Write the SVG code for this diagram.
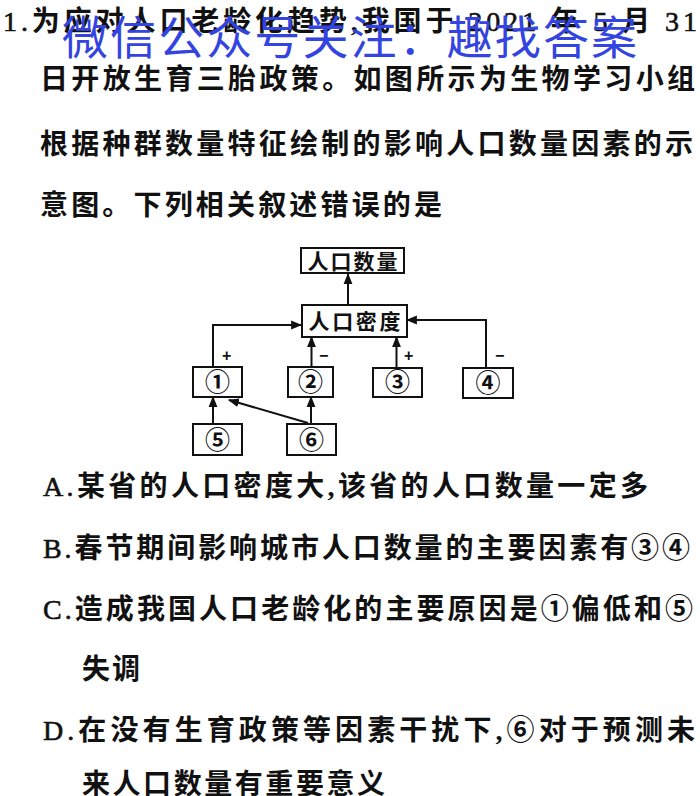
<svg xmlns="http://www.w3.org/2000/svg" width="700" height="796" viewBox="0 0 700 796">
<defs>
<style>
.t{font-family:"Liberation Serif","Noto Sans CJK SC",serif;font-size:28px;font-weight:bold;fill:#111;}
.la{font-weight:normal;stroke:#111;stroke-width:0.6;}
.wm{font-family:"Noto Sans CJK SC","Noto Sans",sans-serif;font-size:46px;font-weight:normal;fill:#3344e0;}
.box{fill:#fff;stroke:#111;stroke-width:2;}
.lbl{font-family:"Noto Sans CJK SC",sans-serif;font-size:21px;font-weight:bold;fill:#111;}
.num{font-family:"Noto Sans CJK SC","DejaVu Sans",sans-serif;font-size:25px;font-weight:bold;fill:#111;}
.sg{font-family:"Liberation Sans",sans-serif;font-size:16px;font-weight:bold;fill:#111;}
.ln{fill:none;stroke:#111;stroke-width:2;}
</style>
<marker id="ah" viewBox="0 0 10 10" refX="9" refY="5" markerWidth="5.5" markerHeight="5.5" orient="auto-start-reverse" markerUnits="strokeWidth">
<path d="M0,1 L10,5 L0,9 z" fill="#111"/>
</marker>
</defs>
<rect width="700" height="796" fill="#fff"/>

<g id="question">
<text class="t" x="3" y="31" textLength="694" lengthAdjust="spacing"><tspan class="la">1.</tspan>为应对人口老龄化趋势,我国于 <tspan class="la">2021</tspan> 年 <tspan class="la">5</tspan> 月 <tspan class="la">31</tspan></text>
<text class="t" x="40" y="89" textLength="655" lengthAdjust="spacing">日开放生育三胎政策。如图所示为生物学习小组</text>
<text class="t" x="40" y="154" textLength="653" lengthAdjust="spacing">根据种群数量特征绘制的影响人口数量因素的示</text>
<text class="t" x="40" y="215" textLength="402" lengthAdjust="spacing">意图。下列相关叙述错误的是</text>
</g>

<g id="watermark">
<text class="wm" x="62" y="54" textLength="575" lengthAdjust="spacing">微信公众号关注：趣找答案</text>
</g>

<g id="connectors">
<line class="ln" x1="348" y1="305" x2="348" y2="274" marker-end="url(#ah)"/>
<polyline class="ln" points="213,367 213,325 301,325" marker-end="url(#ah)"/>
<line class="ln" x1="311.5" y1="367" x2="311.5" y2="337" marker-end="url(#ah)"/>
<line class="ln" x1="396.5" y1="368" x2="396.5" y2="337" marker-end="url(#ah)"/>
<polyline class="ln" points="486,368 486,320 407,320" marker-end="url(#ah)"/>
<line class="ln" x1="213" y1="424" x2="213" y2="397" marker-end="url(#ah)"/>
<line class="ln" x1="311" y1="424" x2="311" y2="397" marker-end="url(#ah)"/>
<line class="ln" x1="308" y1="423" x2="229" y2="400" marker-end="url(#ah)"/>
<text class="sg" x="222" y="361">+</text>
<text class="sg" x="319" y="361">−</text>
<text class="sg" x="404" y="361">+</text>
<text class="sg" x="495" y="361">−</text>
</g>

<g id="n-quantity">
<rect class="box" x="301" y="248" width="103" height="25"/>
<text class="lbl" x="352.5" y="268.5" text-anchor="middle" textLength="90" lengthAdjust="spacing">人口数量</text>
</g>
<g id="n-density">
<rect class="box" x="302" y="305" width="105" height="32"/>
<text class="lbl" x="354.5" y="329" text-anchor="middle" textLength="92" lengthAdjust="spacing">人口密度</text>
</g>
<g id="n1">
<rect class="box" x="193" y="367" width="49" height="30"/>
<text class="num" x="217.5" y="391" text-anchor="middle">①</text>
</g>
<g id="n2">
<rect class="box" x="288" y="367" width="45" height="30"/>
<text class="num" x="310.5" y="391" text-anchor="middle">②</text>
</g>
<g id="n3">
<rect class="box" x="373" y="368" width="49" height="29"/>
<text class="num" x="397.5" y="391" text-anchor="middle">③</text>
</g>
<g id="n4">
<rect class="box" x="463" y="368" width="50" height="30"/>
<text class="num" x="488" y="392" text-anchor="middle">④</text>
</g>
<g id="n5">
<rect class="box" x="193" y="424" width="49" height="31"/>
<text class="num" x="217.5" y="448.5" text-anchor="middle">⑤</text>
</g>
<g id="n6">
<rect class="box" x="287" y="424" width="49" height="31"/>
<text class="num" x="311.5" y="448.5" text-anchor="middle">⑥</text>
</g>

<g id="options">
<text class="t" x="43" y="496" textLength="605" lengthAdjust="spacing"><tspan class="la">A.</tspan>某省的人口密度大,该省的人口数量一定多</text>
<text class="t" x="43" y="558" textLength="647" lengthAdjust="spacing"><tspan class="la">B.</tspan>春节期间影响城市人口数量的主要因素有③④</text>
<text class="t" x="43" y="619" textLength="650" lengthAdjust="spacing"><tspan class="la">C.</tspan>造成我国人口老龄化的主要原因是①偏低和⑤</text>
<text class="t" x="82" y="679" textLength="58" lengthAdjust="spacing">失调</text>
<text class="t" x="43" y="740" textLength="652" lengthAdjust="spacing"><tspan class="la">D.</tspan>在没有生育政策等因素干扰下,⑥对于预测未</text>
<text class="t" x="82" y="794" textLength="303" lengthAdjust="spacing">来人口数量有重要意义</text>
</g>
</svg>
